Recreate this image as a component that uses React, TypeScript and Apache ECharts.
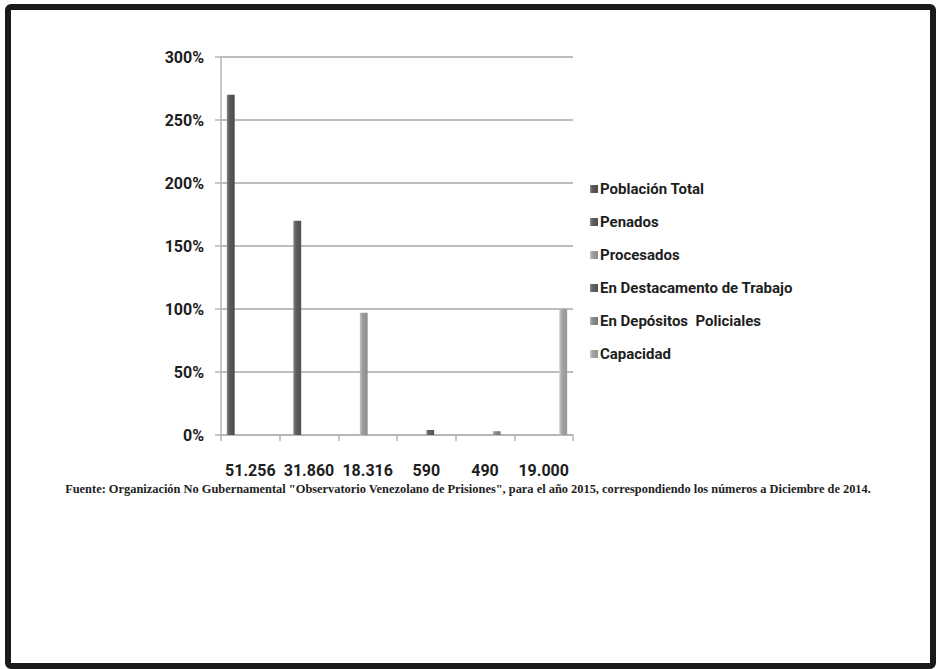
import React, { useEffect, useRef } from "react";
import * as echarts from "echarts";

const categories = ["51.256", "31.860", "18.316", "590", "490", "19.000"];
const seriesNames = [
  "Población Total",
  "Penados",
  "Procesados",
  "En Destacamento de Trabajo",
  "En Depósitos  Policiales",
  "Capacidad",
];
const values = [2.7, 1.7, 0.97, 0.04, 0.03, 1.0];
const seriesColors = ["#5a5a5a", "#5e5e5e", "#9c9c9c", "#606060", "#8a8a8a", "#a4a4a4"];
const yTicks = [0, 0.5, 1, 1.5, 2, 2.5, 3];
const caption =
  'Fuente: Organización No Gubernamental "Observatorio Venezolano de Prisiones", para el año 2015, correspondiendo los números a Diciembre de 2014.';

const FONT = "Roboto, 'Noto Sans', sans-serif";

function shade(hex: string, amt: number) {
  const n = parseInt(hex.slice(1), 16);
  const c = (v: number) => Math.max(0, Math.min(255, Math.round(v + amt)));
  const r = c((n >> 16) & 255), g = c((n >> 8) & 255), b = c(n & 255);
  return `rgb(${r},${g},${b})`;
}

export default function App() {
  const ref = useRef<HTMLDivElement>(null);
  useEffect(() => {
    document.body.style.margin = "0";
    const chart = echarts.init(ref.current!, null, { renderer: "svg" });
    const series = seriesNames.map((name, i) => ({
      name,
      type: "bar",
      barGap: "0%",
      barCategoryGap: "20%",
      itemStyle: {
        color: new echarts.graphic.LinearGradient(0, 0, 1, 0, [
          { offset: 0, color: shade(seriesColors[i], 40) },
          { offset: 0.35, color: seriesColors[i] },
          { offset: 1, color: shade(seriesColors[i], -15) },
        ]),
      },
      data: categories.map((_, j) => (j === i ? values[i] : "-")),
    }));
    chart.setOption({
      animation: false,
      backgroundColor: "#ffffff",
      color: seriesColors,
      grid: { left: 221, right: 363, top: 57, bottom: 234 },
      xAxis: {
        type: "category",
        data: categories,
        axisLine: { lineStyle: { color: "#b5b5b5", width: 1.5 } },
        axisTick: { show: true, length: 6, alignWithLabel: false, lineStyle: { color: "#b5b5b5", width: 1.5 } },
        axisLabel: {
          interval: 0,
          margin: 27,
          color: "#1e1e1e",
          fontWeight: "bold",
          fontSize: 16,
          fontFamily: FONT,
        },
      },
      yAxis: {
        type: "value",
        min: 0,
        max: yTicks[yTicks.length - 1],
        interval: 0.5,
        axisLine: { show: true, lineStyle: { color: "#b5b5b5", width: 1.5 } },
        axisTick: { show: true, length: 6, lineStyle: { color: "#b5b5b5", width: 1.5 } },
        splitLine: { lineStyle: { color: "#a8a8a8", width: 1.5 } },
        axisLabel: {
          margin: 17,
          color: "#1e1e1e",
          fontWeight: "bold",
          fontSize: 16,
          fontFamily: FONT,
          formatter: (v: number) => `${Math.round(v * 100)}%`,
        },
      },
      legend: {
        orient: "vertical",
        left: 585,
        top: 174,
        icon: "rect",
        itemWidth: 8,
        itemHeight: 8,
        itemGap: 13,
        selectedMode: false,
        data: seriesNames,
        textStyle: {
          color: "#1e1e1e",
          fontWeight: "bold",
          fontSize: 15,
          lineHeight: 20,
          fontFamily: FONT,
          padding: [0, 0, 0, -3],
        },
      },
      graphic: [
        {
          type: "rect",
          shape: { x: 8, y: 7, width: 925, height: 659, r: 3 },
          style: { fill: "none", stroke: "#1a1a1a", lineWidth: 6 },
          silent: true,
        },
        {
          type: "text",
          x: 468,
          y: 489,
          style: {
            text: caption,
            fill: "#222222",
            font: "bold 12.4px 'Liberation Serif', 'DejaVu Serif', serif",
            textAlign: "center",
            textVerticalAlign: "middle",
          },
        },
      ],
      series,
    });
    return () => chart.dispose();
  }, []);
  return <div ref={ref} style={{ width: 936, height: 669 }} />;
}
